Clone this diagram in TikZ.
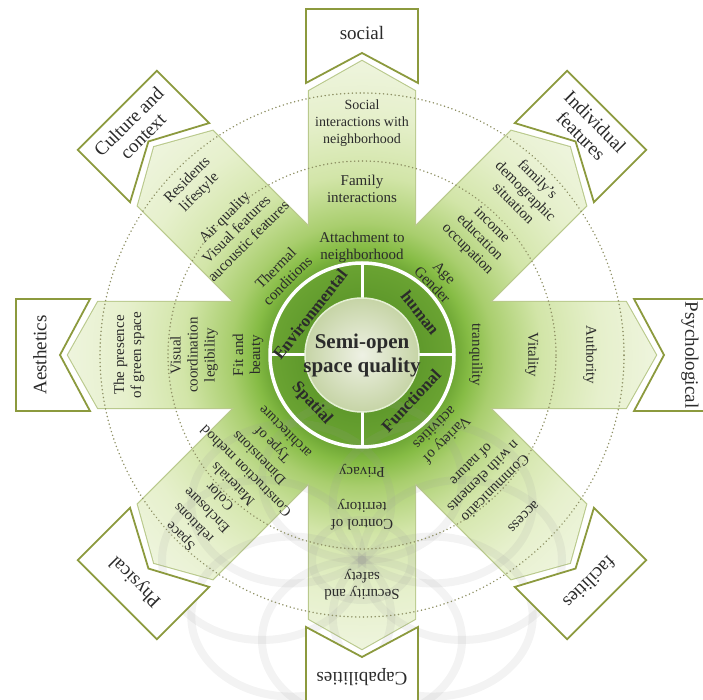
\documentclass[tikz,border=0pt]{standalone}
\usepackage{fontspec}
\setmainfont{Liberation Serif}
\definecolor{boxline}{HTML}{8C9A3E}
\definecolor{armline}{HTML}{B9C98C}
\definecolor{dotc}{HTML}{8E9064}
\definecolor{txt}{HTML}{2B2B2B}
\definecolor{g0}{HTML}{4C8820}
\definecolor{g1}{HTML}{6AA332}
\definecolor{g2}{HTML}{86BC45}
\definecolor{g3}{HTML}{A9CE6E}
\definecolor{g4}{HTML}{D2E5A8}
\definecolor{g5}{HTML}{E6F0CC}
\definecolor{g6}{HTML}{EFF5DF}
\definecolor{discin}{HTML}{EEF1E4}
\definecolor{discout}{HTML}{C6D4A6}
\definecolor{wmark}{HTML}{9A9A9A}
\pgfdeclareradialshading{armglow}{\pgfpoint{0bp}{0bp}}{color(0bp)=(g0); color(7.5bp)=(g1); color(9bp)=(g2); color(11bp)=(g3); color(15bp)=(g4); color(20bp)=(g5); color(25bp)=(g6); color(50bp)=(g6)}
\tikzset{
  armtxt/.style={font=\fontsize{15}{17}\selectfont, align=center, text=txt, inner sep=0pt},
  boxtxt/.style={font=\fontsize{19}{20}\selectfont, align=center, text=txt, inner sep=0pt},
  quadtxt/.style={font=\bfseries\fontsize{17}{19}\selectfont, text=txt, inner sep=0pt},
  dotring/.style={dotc, line width=1.6pt, dash pattern=on 0.1pt off 3.8pt, line cap=round},
  boxshape/.style={boxline, fill=white, line width=1.8pt, line join=miter},
  wmk/.style={wmark, line width=8pt, opacity=0.12},
}
\begin{document}
\begin{tikzpicture}[x=1pt,y=1pt]
\useasboundingbox (-362,-345) rectangle (341,355);
% arm outlines (half covered by fill)
\foreach \a in {0,45,...,315}
  \draw[armline, line width=2.2pt, rotate=\a] (0,-53) -- (264,-53) -- (294,0) -- (264,53) -- (0,53) -- cycle;
% arms: union filled with radial glow
\begin{scope}
\clip \foreach \a in {0,45,...,315} { {[rotate=\a] (0,-53) -- (264,-53) -- (294,0) -- (264,53) -- (0,53) -- cycle} };
\shade[shading=armglow] (0,0) circle (300);
\end{scope}
% faint ornament (watermark) in the lower half
\begin{scope}[shift={(0,-205)}, xscale=1.25]
\foreach \a in {0,45,...,315} \draw[wmk] (\a:80) circle (80);
\draw[wmk] (0,0) circle (40);
\end{scope}
% dotted rings
\draw[dotring] (0,0) circle (194);
\draw[dotring] (0,0) circle (262);
% boxes
\foreach \a in {0,45,...,315}
  \draw[boxshape, rotate=\a] (272,-56) -- (346,-56) -- (346,56) -- (272,56) -- (302,0) -- cycle;
% centre
\draw[white, line width=3.5pt] (0,0) circle (92);
\foreach \a in {0,90,180,270} \draw[white, line width=3pt] (\a:56) -- (\a:92);
\shade[inner color=discin, outer color=discout] (0,0) circle (57);
\draw[white!70!g3, line width=1.5pt] (0,0) circle (57);
\node[font=\bfseries\fontsize{21}{24}\selectfont, align=center, text=txt] (core) at (0,0) {Semi-open\\space quality};
\node[quadtxt, rotate=52] (qe) at (142:66) {Environmental};
\node[quadtxt, rotate=-52] (qh) at (36:72) {human};
\node[quadtxt, rotate=-47] (qs) at (224:70) {Spatial};
\node[quadtxt, rotate=47] (qf) at (317:67) {Functional};
% social
\node[armtxt] (s1) at (90:108) {Attachment to\\neighborhood};
\node[armtxt] (s2) at (90:166) {Family\\interactions};
\node[armtxt, font=\fontsize{14}{17}\selectfont] (s3) at (90:232) {Social\\interactions with\\neighborhood};
\node[boxtxt] (bs) at (90:322) {social};
% individual features
\node[armtxt, rotate=-45] (i1) at (45:108) {Age\\Gender};
\node[armtxt, rotate=-45] (i2) at (45:166) {income\\education\\occupation};
\node[armtxt, rotate=-45] (i3) at (45:232) {family's\\demographic\\situation};
\node[boxtxt, rotate=-45] (bi) at (45:320) {Individual\\features};
% psychological
\node[armtxt, rotate=-90] (p1) at (0:114) {tranquility};
\node[armtxt, rotate=-90] (p2) at (0:170) {Vitality};
\node[armtxt, rotate=-90] (p3) at (0:228) {Authority};
\node[boxtxt, rotate=-90] (bp) at (0:328) {Psychological};
% facilities
\node[armtxt, rotate=-135] (f1) at (-45:112) {Variety of\\activities};
\node[armtxt, rotate=-135] (f2) at (-45:172) {Communicatio\\n with elements\\of nature};
\node[armtxt, rotate=-135] (f3) at (-45:228) {access};
\node[boxtxt, rotate=-135] (bf) at (-45:322) {facilities};
% capabilities
\node[armtxt, rotate=180] (c1) at (-90:116) {Privacy};
\node[armtxt, rotate=180] (c2) at (-90:160) {Control of\\territory};
\node[armtxt, rotate=180] (c3) at (-90:230) {Security and\\safety};
\node[boxtxt, rotate=180] (bc) at (-90:322) {Capabilities};
% physical
\node[armtxt, font=\fontsize{14.5}{18.5}\selectfont, rotate=135] (h1) at (-135:183) {Space\\relations\\Enclosure\\Color\\Materials\\Construction method\\Dimensions\\Type of\\architecture};
\node[boxtxt, rotate=135] (bh) at (-135:320) {Physical};
% culture and context
\node[armtxt, rotate=45] (k1) at (135:114) {Thermal\\conditions};
\node[armtxt, rotate=45] (k2) at (135:178) {Air quality\\Visual features\\aucoustic features};
\node[armtxt, rotate=45] (k3) at (135:238) {Residents\\lifestyle};
\node[boxtxt, rotate=45] (bk) at (135:320) {Culture and\\context};
% aesthetics
\node[armtxt, rotate=90] (a1) at (180:114) {Fit and\\beauty};
\node[armtxt, rotate=90] (a2) at (180:168) {Visual\\coordination\\legibility};
\node[armtxt, rotate=90] (a3) at (180:233) {The presence\\of green space};
\node[boxtxt, rotate=90] (ba) at (180:322) {Aesthetics};
\end{tikzpicture}
\end{document}
